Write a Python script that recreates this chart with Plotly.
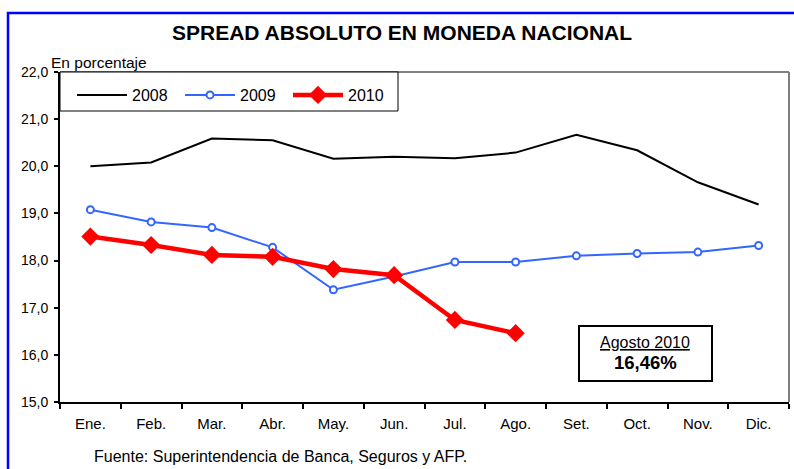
import plotly.graph_objects as go

months = ["Ene.", "Feb.", "Mar.", "Abr.", "May.", "Jun.", "Jul.", "Ago.", "Set.", "Oct.", "Nov.", "Dic."]
s2008 = [20.00, 20.08, 20.59, 20.55, 20.16, 20.20, 20.17, 20.29, 20.67, 20.34, 19.66, 19.19]
s2009 = [19.08, 18.82, 18.70, 18.28, 17.38, 17.66, 17.97, 17.97, 18.10, 18.15, 18.18, 18.32]
s2010 = [18.51, 18.33, 18.12, 18.08, 17.82, 17.69, 16.74, 16.46]
y_ticks = [15, 16, 17, 18, 19, 20, 21, 22]

FONT = "Arial, Liberation Sans, sans-serif"

fig = go.Figure()
fig.add_trace(go.Scatter(x=months, y=s2008, name="2008", mode="lines",
                         line=dict(color="black", width=2)))
fig.add_trace(go.Scatter(x=months, y=s2009, name="2009", mode="lines+markers",
                         line=dict(color="#3366FF", width=2),
                         marker=dict(symbol="circle", size=7, color="white",
                                     line=dict(color="#3366FF", width=2))))
fig.add_trace(go.Scatter(x=months[:len(s2010)], y=s2010, name="2010", mode="lines+markers",
                         line=dict(color="#FF0000", width=4.5),
                         marker=dict(symbol="diamond", size=14, color="#FF0000")))

L, R, T, B = 60, 5, 72, 67
W, H = 794, 469
pw, ph = W - L - R, H - T - B

def px_x(x):
    return (x - L) / pw

def px_y(y):
    return 1 - (y - T) / ph

shapes = [
    # blue outer frame
    dict(type="rect", xref="paper", yref="paper", x0=px_x(8), x1=px_x(830),
         y0=px_y(520), y1=px_y(13), line=dict(color="#0000FF", width=2.5), layer="below"),
    # gray plot border top and right
    dict(type="line", xref="paper", yref="paper", x0=0, x1=1, y0=1, y1=1,
         line=dict(color="#808080", width=2), layer="below"),
    dict(type="line", xref="paper", yref="paper", x0=1, x1=1, y0=0, y1=1,
         line=dict(color="#808080", width=2), layer="below"),
    # legend box
    dict(type="rect", xref="paper", yref="paper", x0=0, x1=px_x(398),
         y0=px_y(111), y1=1, line=dict(color="black", width=1),
         fillcolor="white", layer="below"),
    # annotation box
    dict(type="rect", xref="paper", yref="paper", x0=px_x(579), x1=px_x(712),
         y0=px_y(381), y1=px_y(326), line=dict(color="black", width=2),
         fillcolor="white"),
]

annotations = [
    dict(text="<b>SPREAD ABSOLUTO EN MONEDA NACIONAL</b>", xref="paper", yref="paper",
         x=px_x(402), y=px_y(32), xanchor="center", yanchor="middle", showarrow=False,
         font=dict(family=FONT, size=21, color="black")),
    dict(text="En porcentaje", xref="paper", yref="paper",
         x=px_x(49), y=px_y(62), xanchor="left", yanchor="middle", showarrow=False,
         font=dict(family=FONT, size=15.5, color="black")),
    dict(text="Fuente: Superintendencia de Banca, Seguros y AFP.", xref="paper", yref="paper",
         x=px_x(92), y=px_y(456), xanchor="left", yanchor="middle", showarrow=False,
         font=dict(family=FONT, size=16, color="black")),
    dict(text="<u>Agosto 2010</u>", xref="paper", yref="paper",
         x=px_x(645), y=px_y(342), xanchor="center", yanchor="middle", showarrow=False,
         font=dict(family=FONT, size=16, color="black")),
    dict(text="<b>16,46%</b>", xref="paper", yref="paper",
         x=px_x(645), y=px_y(362), xanchor="center", yanchor="middle", showarrow=False,
         font=dict(family=FONT, size=18.5, color="black")),
]

fig.update_layout(
    width=W, height=H,
    margin=dict(l=L, r=R, t=T, b=B),
    paper_bgcolor="white", plot_bgcolor="white",
    separators=",.",
    font=dict(family=FONT, size=13, color="black"),
    showlegend=True,
    legend=dict(orientation="h", x=px_x(72), y=px_y(78), xanchor="left", yanchor="top",
                bgcolor="rgba(0,0,0,0)", borderwidth=0,
                entrywidth=43, entrywidthmode="pixels",
                font=dict(family=FONT, size=16, color="black"),
                itemwidth=50),
    shapes=shapes,
    annotations=annotations,
    xaxis=dict(type="category", categoryorder="array", categoryarray=months,
               range=[-0.5, len(months) - 0.5],
               showline=True, linecolor="black", linewidth=2,
               ticks="outside", tickson="boundaries", ticklen=5, tickcolor="black",
               tickwidth=1.5, showgrid=False, zeroline=False, ticklabelstandoff=7,
               tickfont=dict(family=FONT, size=15, color="black")),
    yaxis=dict(range=[15, 22], tickvals=y_ticks, tickformat=".1f",
               showline=True, linecolor="black", linewidth=2,
               ticks="outside", ticklen=4, tickcolor="black", tickwidth=1.5,
               showgrid=False, zeroline=False, ticklabelstandoff=3,
               tickfont=dict(family=FONT, size=14, color="black")),
)

fig.write_html("out.html", config={"displayModeBar": False},
               post_script="document.body.style.margin='0';document.body.style.overflow='hidden';")
